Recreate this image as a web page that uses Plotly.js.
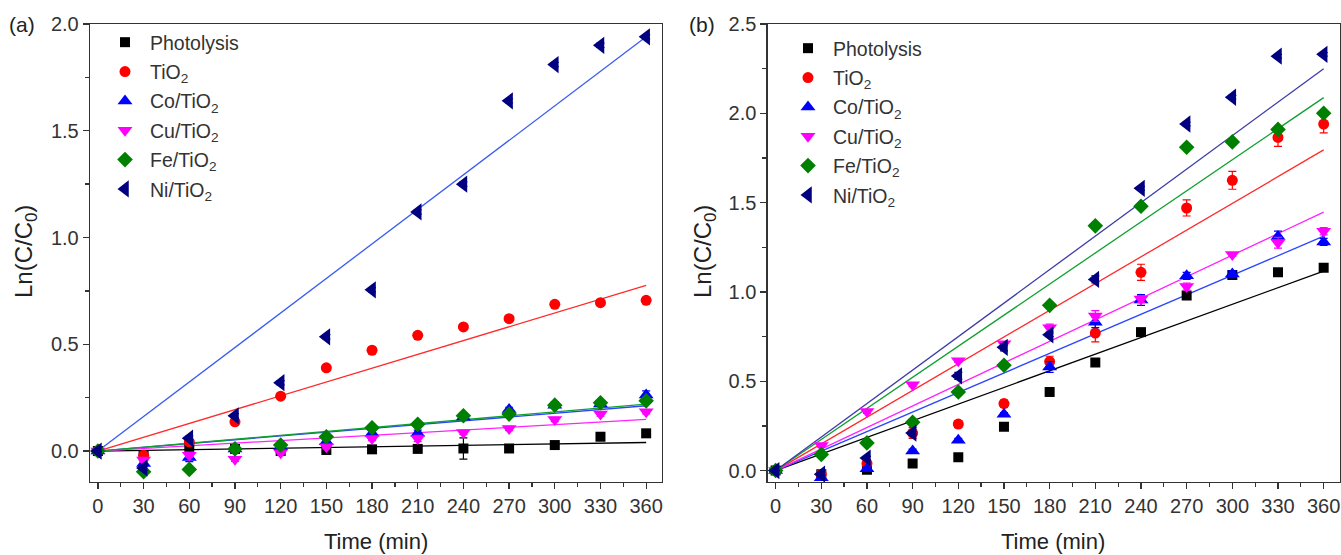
<!DOCTYPE html>
<html>
<head>
<meta charset="utf-8">
<script src="https://cdn.plot.ly/plotly-3.0.1.min.js"></script>
<style>
  html, body { margin: 0; padding: 0; background: #fff; }
  #chart { width: 1341px; height: 555px; }
</style>
</head>
<body>
<div id="chart"></div>
<script>
// Sampling times (min)
const times = [0, 30, 60, 90, 120, 150, 180, 210, 240, 270, 300, 330, 360];

const seriesNames = ['Photolysis', 'TiO<sub>2</sub>', 'Co/TiO<sub>2</sub>',
                     'Cu/TiO<sub>2</sub>', 'Fe/TiO<sub>2</sub>', 'Ni/TiO<sub>2</sub>'];

// Panel (a): Ln(C/C0) per catalyst
const photoA = [0, -0.02, 0.02, 0.01, 0.0, 0.005, 0.008, 0.01, 0.012, 0.012, 0.028, 0.067, 0.083];
const tio2A  = [0, -0.02, 0.043, 0.137, 0.257, 0.39, 0.472, 0.542, 0.581, 0.62, 0.687, 0.695, 0.706];
const coA    = [0, -0.058, -0.03, 0.01, 0.02, 0.043, 0.083, 0.083, 0.16, 0.195, 0.215, 0.22, 0.262];
const cuA    = [0, -0.042, -0.02, -0.039, -0.008, 0.02, 0.059, 0.059, 0.087, 0.106, 0.148, 0.173, 0.184];
const feA    = [0, -0.097, -0.086, 0.01, 0.028, 0.067, 0.109, 0.125, 0.165, 0.173, 0.215, 0.226, 0.235];
const niA    = [0, -0.08, 0.06, 0.165, 0.32, 0.535, 0.755, 1.12, 1.25, 1.64, 1.81, 1.90, 1.94];

const photoAErr = [0, 0.01, 0.01, 0.01, 0.01, 0.01, 0.01, 0.01, 0.05, 0.01, 0.01, 0.01, 0.015];
const tio2AErr  = [0, 0.01, 0.01, 0.01, 0.01, 0.01, 0.01, 0.01, 0.01, 0.01, 0.01, 0.01, 0.01];
const coAErr    = [0, 0.01, 0.02, 0.01, 0.01, 0.01, 0.01, 0.015, 0.01, 0.01, 0.015, 0.01, 0.02];
const cuAErr    = [0, 0.01, 0.01, 0.01, 0.01, 0.01, 0.01, 0.015, 0.01, 0.01, 0.01, 0.01, 0.01];
const feAErr    = [0, 0.01, 0.01, 0.01, 0.01, 0.01, 0.01, 0.01, 0.01, 0.01, 0.01, 0.01, 0.01];
const niAErr    = [0, 0.01, 0.01, 0.01, 0.01, 0.01, 0.01, 0.01, 0.01, 0.01, 0.01, 0.01, 0.01];

// Panel (a): linear fit values at t = 0 and t = 360 min
const fitTimes = [0, 360];
const fitA = [[0, 0.04], [0, 0.776], [0, 0.212], [0, 0.148], [0, 0.22], [0, 1.94]];

// Panel (b): Ln(C/C0) per catalyst
const photoB = [0, -0.02, 0.005, 0.04, 0.075, 0.245, 0.44, 0.605, 0.775, 0.98, 1.095, 1.11, 1.135];
const tio2B  = [0, -0.02, 0.04, 0.21, 0.26, 0.375, 0.61, 0.77, 1.11, 1.47, 1.625, 1.865, 1.94];
const coB    = [0, -0.04, 0.01, 0.11, 0.17, 0.315, 0.58, 0.83, 0.955, 1.09, 1.10, 1.31, 1.28];
const cuB    = [0, 0.14, 0.33, 0.48, 0.615, 0.71, 0.80, 0.865, 0.96, 1.03, 1.21, 1.275, 1.34];
const feB    = [0, 0.09, 0.155, 0.27, 0.44, 0.59, 0.925, 1.37, 1.48, 1.81, 1.84, 1.91, 2.0];
const niB    = [0, -0.02, 0.07, 0.21, 0.53, 0.69, 0.76, 1.07, 1.58, 1.94, 2.09, 2.32, 2.33];

const photoBErr = [0, 0.01, 0.01, 0.01, 0.01, 0.01, 0.01, 0.01, 0.01, 0.02, 0.01, 0.01, 0.01];
const tio2BErr  = [0, 0.015, 0.015, 0.03, 0.02, 0.02, 0.03, 0.05, 0.045, 0.045, 0.05, 0.05, 0.05];
const coBErr    = [0, 0.015, 0.01, 0.01, 0.01, 0.01, 0.03, 0.03, 0.03, 0.02, 0.02, 0.03, 0.02];
const cuBErr    = [0, 0.01, 0.01, 0.01, 0.01, 0.01, 0.02, 0.03, 0.02, 0.02, 0.01, 0.03, 0.02];
const feBErr    = [0, 0.01, 0.01, 0.01, 0.01, 0.01, 0.01, 0.01, 0.01, 0.01, 0.01, 0.01, 0.01];
const niBErr    = [0, 0.01, 0.01, 0.01, 0.02, 0.02, 0.01, 0.02, 0.01, 0.01, 0.01, 0.01, 0.01];

const fitB = [[0, 1.117], [0, 1.795], [0, 1.312], [0, 1.447], [0, 2.088], [0, 2.25]];

// Marker and line styles
const symbols = ['square', 'circle', 'triangle-up', 'triangle-down', 'diamond', 'triangle-left'];
const markerColors = ['#000000', '#ff0000', '#0000ff', '#ff00ff', '#008000', '#000080'];
const markerSizes = [10, 11, 13, 13, 12, 15];
const fitColorsA = ['#000000', '#ff2a2a', '#2a45ff', '#ff22ff', '#10a030', '#3a5cf0'];
const fitColorsB = ['#000000', '#ff2a2a', '#2a45ff', '#ff22ff', '#10a030', '#3c3ca8'];

const dataA = [photoA, tio2A, coA, cuA, feA, niA];
const errA = [photoAErr, tio2AErr, coAErr, cuAErr, feAErr, niAErr];
const dataB = [photoB, tio2B, coB, cuB, feB, niB];
const errB = [photoBErr, tio2BErr, coBErr, cuBErr, feBErr, niBErr];

const traces = [];

function addPanel(values, errors, fits, fitColors, xa, ya, legendId) {
  fits.forEach((f, i) => {
    traces.push({
      x: fitTimes, y: f, xaxis: xa, yaxis: ya,
      mode: 'lines', showlegend: false, hoverinfo: 'skip',
      line: { color: fitColors[i], width: 1.3 }
    });
  });
  values.forEach((v, i) => {
    traces.push({
      x: times, y: v, xaxis: xa, yaxis: ya,
      mode: 'markers', name: seriesNames[i],
      legend: legendId, legendgroup: legendId + i,
      marker: { symbol: symbols[i], color: markerColors[i], size: markerSizes[i] },
      error_y: { type: 'data', array: errors[i], visible: true,
                 color: markerColors[i], thickness: 1.2, width: 4 }
    });
  });
}

addPanel(dataA, errA, fitA, fitColorsA, 'x', 'y', 'legend');
addPanel(dataB, errB, fitB, fitColorsB, 'x2', 'y2', 'legend2');

const W = 1341, H = 555;
const plotTop = 24, plotBottom = 482;
const plotH = plotBottom - plotTop;
const py = p => (plotBottom - p) / plotH;   // pixel row -> paper y
const px = p => p / W;                      // pixel column -> paper x

const fam = 'Liberation Sans, Arial, sans-serif';
const axisFont = { family: fam, size: 20, color: '#333' };
const frameColor = '#333';

function xAxis(domain, anchor) {
  return {
    domain: domain, anchor: anchor,
    range: [-5.2, 370.4],
    tickmode: 'linear', tick0: 0, dtick: 30,
    ticks: 'outside', ticklen: 6, tickwidth: 1.3, tickcolor: frameColor,
    minor: { dtick: 15, tick0: 0, ticks: 'outside', ticklen: 4, tickwidth: 1.3, tickcolor: frameColor },
    showline: true, linecolor: frameColor, linewidth: 1.3, mirror: true,
    showgrid: false, zeroline: false,
    tickfont: axisFont, fixedrange: true
  };
}

function yAxis(range, anchor) {
  return {
    anchor: anchor, domain: [0, 1],
    range: range,
    tickmode: 'linear', tick0: 0, dtick: 0.5, tickformat: '.1f',
    ticks: 'outside', ticklen: 6, tickwidth: 1.3, tickcolor: frameColor,
    minor: { dtick: 0.25, tick0: 0, ticks: 'outside', ticklen: 4, tickwidth: 1.3, tickcolor: frameColor },
    showline: true, linecolor: frameColor, linewidth: 1.3, mirror: true,
    showgrid: false, zeroline: false,
    tickfont: axisFont, fixedrange: true
  };
}

const legendFont = { family: fam, size: 19.5, color: '#333' };
const titleFont = { family: fam, size: 22, color: '#222' };
const yTitleFont = { family: fam, size: 24, color: '#222' };
const panelFont = { family: fam, size: 21, color: '#222' };

function label(text, x, y, font, angle) {
  return { text: text, xref: 'paper', yref: 'paper', x: px(x), y: py(y),
           xanchor: 'center', yanchor: 'middle', textangle: angle || 0,
           showarrow: false, font: font };
}

const layout = {
  width: W, height: H,
  margin: { l: 0, r: 0, t: plotTop, b: H - plotBottom },
  paper_bgcolor: '#fff', plot_bgcolor: '#fff',
  showlegend: true,
  xaxis: xAxis([px(90), px(662)], 'y'),
  yaxis: yAxis([-0.145, 2.0], 'x'),
  xaxis2: xAxis([px(767.7), px(1339.5)], 'y2'),
  yaxis2: yAxis([-0.064, 2.5], 'x2'),
  legend: {
    x: px(100), y: py(23), xanchor: 'left', yanchor: 'top',
    bgcolor: 'rgba(0,0,0,0)', font: legendFont, itemwidth: 40,
    traceorder: 'grouped', tracegroupgap: 1
  },
  legend2: {
    x: px(783), y: py(29), xanchor: 'left', yanchor: 'top',
    bgcolor: 'rgba(0,0,0,0)', font: legendFont, itemwidth: 40,
    traceorder: 'grouped', tracegroupgap: 1
  },
  annotations: [
    label('(a)', 22, 24, panelFont),
    label('(b)', 702, 24, panelFont),
    label('Time (min)', 376, 541, titleFont),
    label('Time (min)', 1053, 541, titleFont),
    label('Ln(C/C<sub>0</sub>)', 25, 252, yTitleFont, -90),
    label('Ln(C/C<sub>0</sub>)', 704, 252, yTitleFont, -90)
  ]
};

Plotly.newPlot('chart', traces, layout, { displayModeBar: false, staticPlot: true });
</script>
</body>
</html>
